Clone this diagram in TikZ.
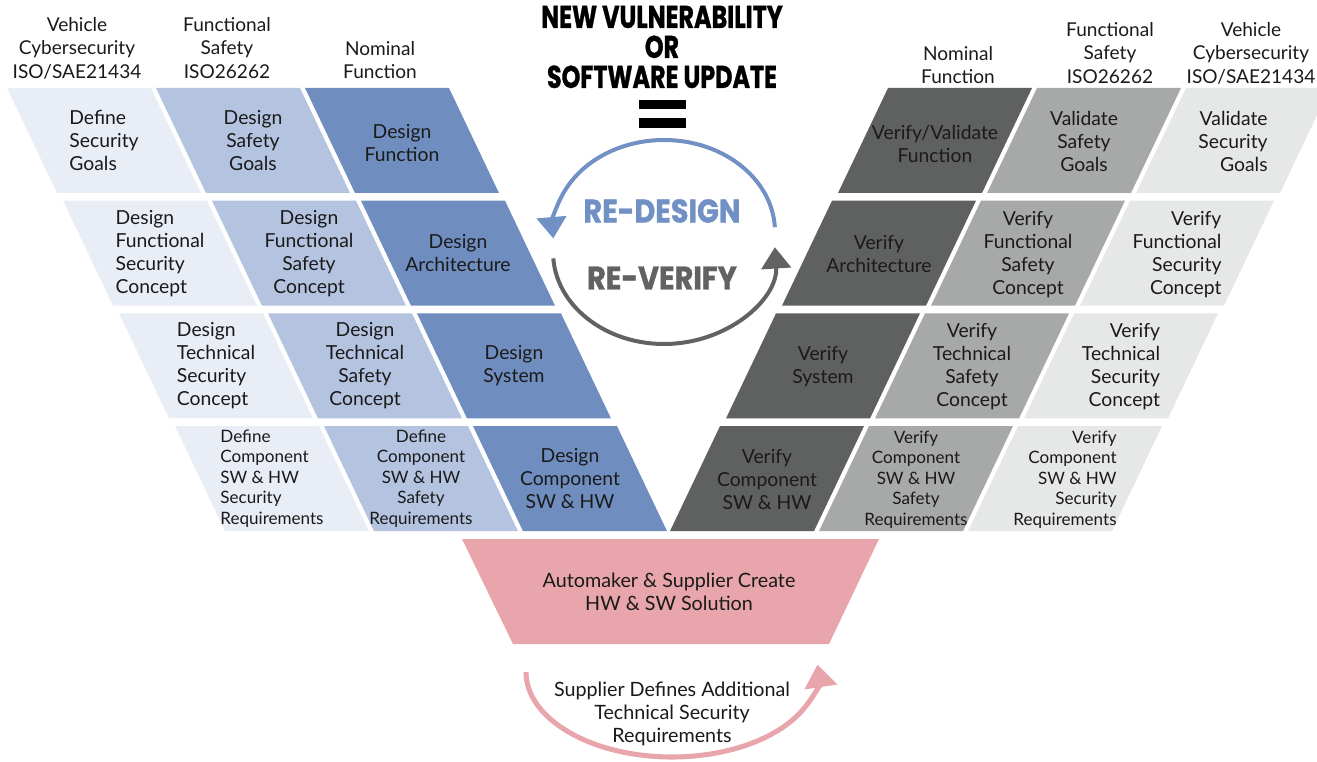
\documentclass[tikz,border=0pt]{standalone}
\usepackage{fontspec}
\setmainfont{Lato}
\newfontfamily\heavyfont{Poppins}[BoldFeatures={FakeBold=1.2}]
\usetikzlibrary{arrows.meta,calc}
\definecolor{secBlue}{HTML}{E9EDF6}
\definecolor{safeBlue}{HTML}{B4C3DF}
\definecolor{funcBlue}{HTML}{6F8EBF}
\definecolor{funcGrey}{HTML}{5F6060}
\definecolor{safeGrey}{HTML}{A7A8A8}
\definecolor{secGrey}{HTML}{E6E7E7}
\definecolor{solPink}{HTML}{E8A5AC}
\definecolor{loopBlue}{HTML}{7191C4}
\definecolor{loopGrey}{HTML}{626262}
\definecolor{ink}{HTML}{1A1A1A}

\tikzset{
  header/.style={text=ink, align=center, font=\fontsize{14.3}{17.6}\selectfont},
  boxtext/.style={text=ink, align=center, inner sep=0pt, font=\fontsize{14.5}{17.25}\selectfont},
  smalltext/.style={boxtext, font=\fontsize{12.8}{15.4}\selectfont},
  roundtext/.style={text=ink, align=center, font=\fontsize{14.8}{17}\selectfont},
  looplabel/.style={font=\heavyfont\bfseries\fontsize{24.5}{26}\selectfont},
  loop/.style={line width=3pt, -{Triangle[width=22pt,length=16pt]}}
}

\begin{document}
\begin{tikzpicture}[x=0.75pt, y=-0.75pt]
  \useasboundingbox (0,0) rectangle (1317,762);
  \clip (0,0) rectangle (1317,762);

  % design bands (left leg) and verification bands (right leg)
  \foreach \r in {0,...,3}{
    \foreach \c/\col in {0/secBlue,1/safeBlue,2/funcBlue}{
      \fill[\col] ({7+56*\r+149*\c},{88+112.7*\r}) -- ++(144,0) -- ++(50,105) -- ++(-144,0) -- cycle;
      \coordinate (L\r\c) at ({7+56*\r+149*\c+97},{140.5+112.7*\r});
    }
    \foreach \c/\col in {0/secGrey,1/safeGrey,2/funcGrey}{
      \fill[\col] ({1337-7-56*\r-149*\c},{88+112.7*\r}) -- ++(-144,0) -- ++(-50,105) -- ++(144,0) -- cycle;
      \coordinate (R\r\c) at ({1337-7-56*\r-149*\c-97},{141.5+112.7*\r});
    }
  }

  % column heads
  \node[header] (hdSecL) at (77,48) {Vehicle\\Cybersecurity\\ISO/SAE21434};
  \node[header] (hdSafeL) at (227,48) {Functional\\Safety\\ISO26262};
  \node[header] (hdFuncL) at (380,60) {Nominal\\Function};
  \node[header] (hdFuncR) at (958,65) {Nominal\\Function};
  \node[header] (hdSafeR) at (1110,53) {Functional\\Safety\\ISO26262};
  \node[header] (hdSecR) at (1251,53) {Vehicle\\Cybersecurity\\ISO/SAE21434};

  % left leg
  \node[boxtext, align=left] (secGoals) at (L00) {Define\\Security\\Goals};
  \node[boxtext] (safeGoals) at (L01) {Design\\Safety\\Goals};
  \node[boxtext] (func) at ([yshift=-2pt]L02) {Design\\Function};
  \node[boxtext, align=left] (fsecCon) at (L10) {Design\\Functional\\Security\\Concept};
  \node[boxtext] (fsafeCon) at (L11) {Design\\Functional\\Safety\\Concept};
  \node[boxtext] (arch) at (L12) {Design\\Architecture};
  \node[boxtext, align=left] (tsecCon) at (L20) {Design\\Technical\\Security\\Concept};
  \node[boxtext] (tsafeCon) at (L21) {Design\\Technical\\Safety\\Concept};
  \node[boxtext] (sys) at (L22) {Design\\System};
  \node[smalltext, align=left] (secReq) at (L30) {Define\\Component\\SW \& HW\\Security\\Requirements};
  \node[smalltext] (safeReq) at (L31) {Define\\Component\\SW \& HW\\Safety\\Requirements};
  \node[boxtext] (comp) at (L32) {Design\\Component\\SW \& HW};

  % right leg
  \node[boxtext, align=right] (vSecGoals) at (R00) {Validate\\Security\\Goals};
  \node[boxtext] (vSafeGoals) at (R01) {Validate\\Safety\\Goals};
  \node[boxtext] (vFunc) at ([yshift=-2pt]R02) {Verify/Validate\\Function};
  \node[boxtext, align=right] (vFsecCon) at (R10) {Verify\\Functional\\Security\\Concept};
  \node[boxtext] (vFsafeCon) at (R11) {Verify\\Functional\\Safety\\Concept};
  \node[boxtext] (vArch) at (R12) {Verify\\Architecture};
  \node[boxtext, align=right] (vTsecCon) at (R20) {Verify\\Technical\\Security\\Concept};
  \node[boxtext] (vTsafeCon) at (R21) {Verify\\Technical\\Safety\\Concept};
  \node[boxtext] (vSys) at (R22) {Verify\\System};
  \node[smalltext, align=right] (vSecReq) at (R30) {Verify\\Component\\SW \& HW\\Security\\Requirements};
  \node[smalltext] (vSafeReq) at (R31) {Verify\\Component\\SW \& HW\\Safety\\Requirements};
  \node[boxtext] (vComp) at (R32) {Verify\\Component\\SW \& HW};

  % bottom of the V
  \fill[solPink] (462,539) -- (879,539) -- (829,644) -- (513,644) -- cycle;
  \node[roundtext] (sol) at (669,592) {Automaker \& Supplier Create\\HW \& SW Solution};

  % supplier loop under the V
  \coordinate (pinkC) at (672,672);
  \draw[loop, solPink, line width=3.8pt, -{Triangle[width=24pt,length=17pt]}]
    ($(pinkC)+(180:146 and 85)$) arc[start angle=180, end angle=-5, x radius=146, y radius=85];
  \node[roundtext] (supReq) at (672,714) {Supplier Defines Additional\\Technical Security\\Requirements};

  % trigger
  \node[font=\heavyfont\bfseries\fontsize{23.5}{22.5}\selectfont, align=center] (trigger) at (662,47)
    {\scalebox{0.76}[1]{NEW VULNERABILITY}\\\scalebox{0.76}[1]{OR}\\\scalebox{0.76}[1]{SOFTWARE UPDATE}};
  \fill (639,100) rectangle (686,109);
  \fill (639,118) rectangle (686,128);

  % re-design / re-verify loop
  \coordinate (upC) at (664,232);
  \coordinate (loC) at (664,252);
  \draw[loop, loopBlue] ($(upC)+(-3:111 and 92)$) arc[start angle=-3, end angle=-184, x radius=111, y radius=92];
  \draw[loop, loopGrey] ($(loC)+(176:111 and 92)$) arc[start angle=176, end angle=-3, x radius=111, y radius=92];
  \node[looplabel, text=loopBlue] (redesign) at (662,211) {\scalebox{0.88}[1]{RE-DESIGN}};
  \node[looplabel, text=loopGrey] (reverify) at (662,278) {\scalebox{0.88}[1]{RE-VERIFY}};
\end{tikzpicture}
\end{document}
